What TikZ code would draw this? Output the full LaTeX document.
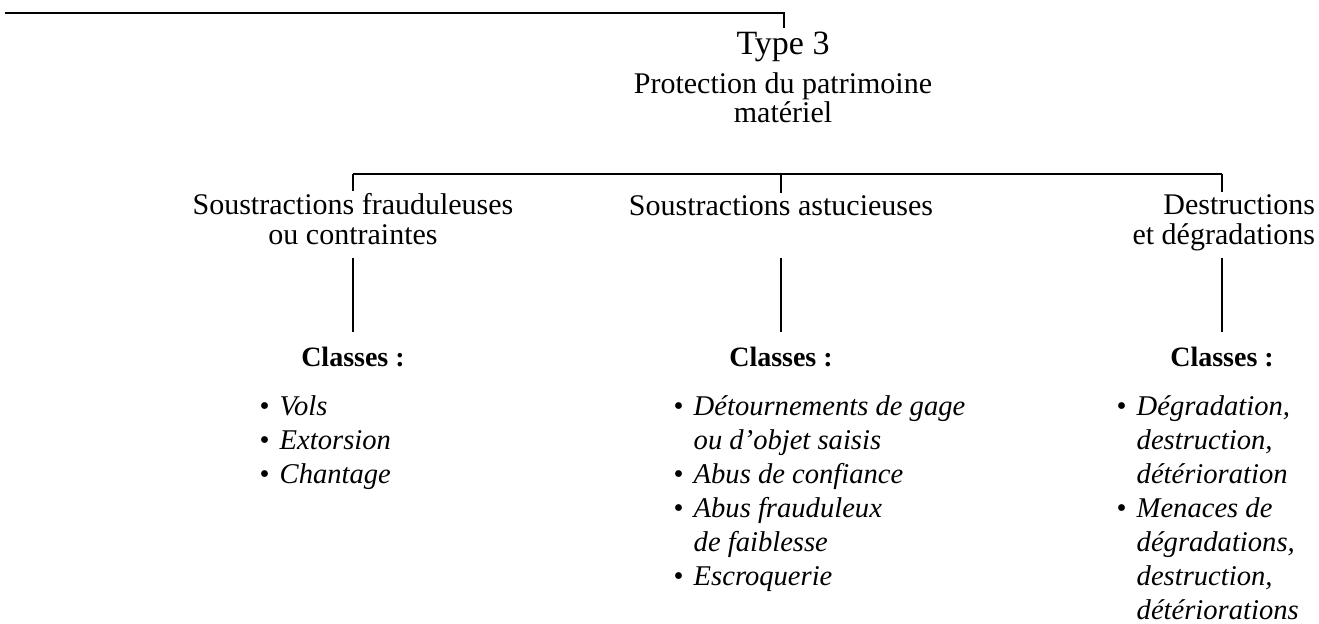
\documentclass[tikz,border=0pt]{standalone}
\usepackage{fontspec}
\setmainfont{Liberation Serif}
\newcommand{\itm}{\makebox[10pt][l]{\upshape\textbullet}}
\newcommand{\ind}{\hspace*{10pt}}
\begin{document}
\begin{tikzpicture}[x=0.5pt,y=-0.5pt,line width=0.7pt,
  topbox/.style={align=center,inner sep=0pt,outer sep=1.5pt,font=\fontsize{15}{14.5}\selectfont},
  lvlbox/.style={inner sep=0pt,outer sep=1pt,font=\fontsize{15}{15}\selectfont},
  clsbox/.style={inner xsep=0pt,inner ysep=7pt,font=\fontsize{14}{16}\selectfont\bfseries},
  listbox/.style={align=left,inner sep=0pt,font=\fontsize{14.3}{17}\selectfont\itshape}]
\useasboundingbox (0,0) rectangle (1319,623);
% top
\node[topbox,anchor=base] (type3) at (783,122) {{\fontsize{17}{14.5}\selectfont Type 3}\\[5pt] Protection du patrimoine\\ matériel};
\coordinate (t0) at (5,13);
\coordinate (t1) at (784,13);
\draw (t0) -- (t1) -- (t1 |- type3.north);
% level 2
\node[lvlbox,align=center,anchor=base] (sf) at (353,244) {Soustractions frauduleuses\\ ou contraintes};
\node[lvlbox,anchor=base] (sa) at (781,215) {Soustractions astucieuses};
\node[lvlbox,align=right,anchor=base east] (dd) at (1317,244) {Destructions\\ et dégradations};
\coordinate (b1) at (353,174);
\coordinate (b2) at (781,174);
\coordinate (b3) at (1222,174);
\draw (b1) -- (b3);
\draw (b1) -- (b1 |- sf.north);
\draw (b2) -- (b2 |- sa.north);
\draw (b3) -- (b3 |- dd.north);
% classes
\node[clsbox,anchor=base] (c1) at (353,366) {Classes :};
\node[clsbox,anchor=base] (c2) at (781,366) {Classes :};
\node[clsbox,anchor=base] (c3) at (1222,366) {Classes :};
\coordinate (v1) at (353,258);
\coordinate (v2) at (781,258);
\coordinate (v3) at (1222,258);
\draw (v1) -- (c1);
\draw (v2) -- (c2);
\draw (v3) -- (c3);
% lists
\node[listbox,anchor=base west] (l1) at (259,483) {\itm Vols\\ \itm Extorsion\\ \itm Chantage};
\node[listbox,anchor=base west] (l2) at (673,585) {\itm Détournements de gage\\ \ind ou d’objet saisis\\ \itm Abus de confiance\\ \itm Abus frauduleux\\ \ind de faiblesse\\ \itm Escroquerie};
\node[listbox,anchor=base west] (l3) at (1116,619) {\itm Dégradation,\\ \ind destruction,\\ \ind détérioration\\ \itm Menaces de\\ \ind dégradations,\\ \ind destruction,\\ \ind détériorations};
\end{tikzpicture}
\end{document}
